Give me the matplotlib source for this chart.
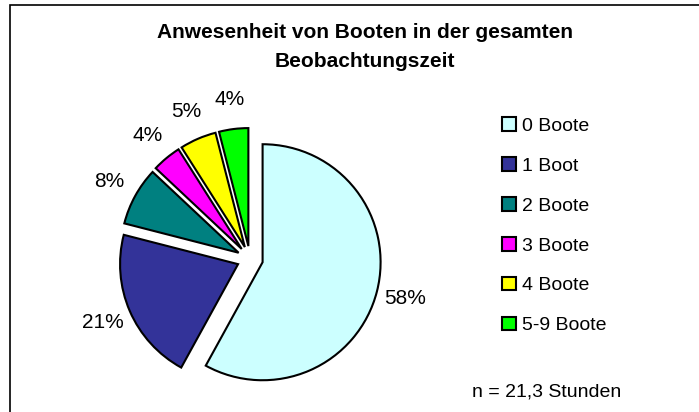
import matplotlib
matplotlib.use("Agg")
import matplotlib.pyplot as plt
from matplotlib.patches import Rectangle

plt.rcParams['font.family'] = ['Liberation Sans', 'DejaVu Sans']

categories = ["0 Boote", "1 Boot", "2 Boote", "3 Boote", "4 Boote", "5-9 Boote"]
values = [58, 21, 8, 4, 5, 4]
colors = ["#CCFFFF", "#333399", "#008080", "#FF00FF", "#FFFF00", "#00FF00"]
title = "Anwesenheit von Booten in der gesamten\nBeobachtungszeit"
note = "n = 21,3 Stunden"

W, H = 699, 412
fig = plt.figure(figsize=(W / 100, H / 100), dpi=100)
ax = fig.add_axes([0, 0, 1, 1])

R = 118
wedges, texts, autotexts = ax.pie(
    values, colors=colors, startangle=90, counterclock=False,
    explode=[13] * len(values), radius=R, center=(250, H - 259),
    autopct='%1.0f%%', pctdistance=1.25, frame=False,
    wedgeprops=dict(edgecolor='black', linewidth=1.5),
    textprops=dict(fontsize=15, color='black'))
ax.set_xlim(0, W)
ax.set_ylim(0, H)
ax.set_aspect('auto')
ax.axis('off')

# border
ax.add_patch(Rectangle((10, -20), W + 40, H - 5 + 20, fill=False,
                       edgecolor='black', linewidth=1.2, clip_on=False))

ax.text(365, H - 47, title, ha='center', va='center', fontsize=15,
        fontweight='bold', linespacing=1.7)

leg = ax.legend(wedges, categories, loc='upper left',
                bbox_to_anchor=(502 / W, (H - 117) / H),
                frameon=False, fontsize=14, handlelength=0.7,
                handleheight=0.7, handletextpad=0.35, labelspacing=1.15,
                borderpad=0, borderaxespad=0)

ax.text(472, H - 392, note, ha='left', va='center', fontsize=14)

fig.savefig("out.png", dpi=100)
